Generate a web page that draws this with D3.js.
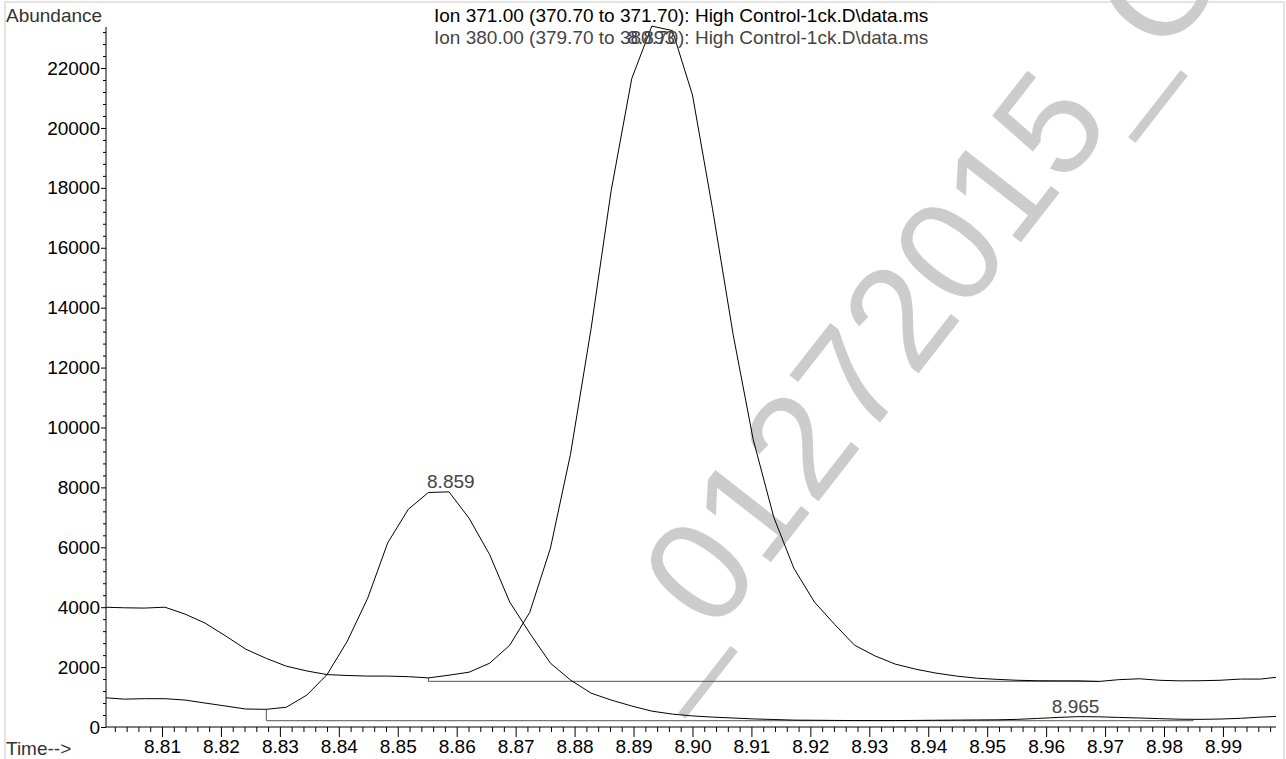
<!DOCTYPE html>
<html><head><meta charset="utf-8">
<script src="https://cdn.jsdelivr.net/npm/d3@7"></script>
<style>body{margin:0;background:#fff}svg{display:block;font-family:"Liberation Sans",Arial,sans-serif}</style>
</head><body><svg id="c" width="1286" height="759"></svg>
<script>
const times=[8.8001,8.8036,8.8070,8.8105,8.8139,8.8173,8.8208,8.8242,8.8277,8.8311,8.8346,8.8380,8.8414,8.8449,8.8483,8.8518,8.8552,8.8587,8.8621,8.8656,8.8690,8.8724,8.8759,8.8793,8.8828,8.8862,8.8897,8.8931,8.8966,8.9000,8.9034,8.9069,8.9103,8.9138,8.9172,8.9207,8.9241,8.9275,8.9310,8.9344,8.9379,8.9413,8.9448,8.9482,8.9517,8.9551,8.9585,8.9620,8.9654,8.9689,8.9723,8.9758,8.9792,8.9827,8.9861,8.9895,8.9930,8.9964,8.9999];
const ion371=[4000,3980,3970,4000,3770,3470,3040,2600,2290,2030,1870,1750,1720,1700,1700,1680,1640,1730,1830,2130,2730,3830,5970,9100,13300,17900,21650,23400,23250,21100,17300,13100,9600,7000,5300,4170,3430,2730,2370,2100,1930,1800,1700,1630,1590,1560,1545,1540,1540,1520,1580,1610,1560,1540,1545,1560,1600,1600,1680];
const ion380=[980,930,945,945,900,800,700,600,590,660,1070,1750,2850,4300,6150,7270,7830,7850,6970,5750,4170,3130,2130,1570,1130,900,700,530,430,370,330,300,270,250,230,225,220,215,215,215,220,225,230,235,240,255,285,320,345,340,320,300,280,260,255,265,290,330,360];
const yTicks=[0,2000,4000,6000,8000,10000,12000,14000,16000,18000,20000,22000];
const xTicks=[8.81,8.82,8.83,8.84,8.85,8.86,8.87,8.88,8.89,8.90,8.91,8.92,8.93,8.94,8.95,8.96,8.97,8.98,8.99];
const xTickLabels=["8.81","8.82","8.83","8.84","8.85","8.86","8.87","8.88","8.89","8.90","8.91","8.92","8.93","8.94","8.95","8.96","8.97","8.98","8.99"];
const peakTimes=[8.859,8.893,8.965];
const peakLabels=["8.859","8.893","8.965"];
const peakSeries=["ion380","ion371","ion380"];
const baselineStart=[8.8277,8.8552,8.9448];
const baselineEnd=[8.9448,8.9690,8.9850];
const baselineLevel=[210,1525,210];
const titles=["Ion 371.00 (370.70 to 371.70): High Control-1ck.D\\data.ms","Ion 380.00 (379.70 to 380.70): High Control-1ck.D\\data.ms"];
const watermark="_01272015_C";

const svg=d3.select("#c");
const x=d3.scaleLinear().domain([8.8005,8.9990]).range([106,1276]);
const y=d3.scaleLinear().domain([0,23370]).range([727,27]);
const series={ion371,ion380};

svg.append("rect").attr("x",5).attr("y",2).attr("width",1279).attr("height",800)
  .attr("fill","none").attr("stroke","#e4e4e4").attr("stroke-width",2);

svg.append("text").attr("transform","translate(664,699) rotate(-52)")
  .attr("font-size",146).attr("fill","#cccccc").text(watermark);

svg.append("clipPath").attr("id","pc").append("rect")
  .attr("x",106).attr("y",0).attr("width",1170).attr("height",728);

const yMinor=d3.range(400,23370,400).filter(v=>v%2000!==0);
const xMinor=d3.range(8.802,8.9990,0.002).filter(v=>Math.abs(v*100-Math.round(v*100))>0.01);
const gy=svg.append("g").attr("transform","translate(106,0)")
  .call(d3.axisLeft(y).tickValues(yMinor).tickSize(3).tickFormat(""));
const gyM=svg.append("g").attr("transform","translate(106,0)")
  .call(d3.axisLeft(y).tickValues(yTicks).tickSize(5).tickPadding(1).tickFormat(d3.format("d")));
[gy,gyM].forEach(g=>g.select(".domain").remove());
svg.append("line").attr("x1",106).attr("x2",106).attr("y1",y(23370)).attr("y2",y(0)).attr("stroke","#000");
gyM.selectAll("text").attr("font-size",19).attr("fill","#000").attr("font-family","Liberation Sans, Arial, sans-serif");

const gx=svg.append("g").attr("transform","translate(0,727)")
  .call(d3.axisBottom(x).tickValues(xMinor).tickSize(5).tickFormat(""));
const gxM=svg.append("g").attr("transform","translate(0,727)")
  .call(d3.axisBottom(x).tickValues(xTicks).tickSize(10).tickPadding(3).tickFormat((d,i)=>xTickLabels[i]));
[gx,gxM].forEach(g=>g.select(".domain").remove());
svg.append("line").attr("x1",106).attr("x2",1276).attr("y1",727).attr("y2",727).attr("stroke","#000");
gxM.selectAll("text").attr("font-size",19).attr("fill","#000").attr("font-family","Liberation Sans, Arial, sans-serif");

const bl=svg.append("g").attr("clip-path","url(#pc)");
baselineStart.forEach((t0,i)=>{
  const s=series[peakSeries[i]];
  const idx=d3.minIndex(times,t=>Math.abs(t-t0));
  const path=d3.path();
  path.moveTo(x(times[idx]),y(s[idx]));
  path.lineTo(x(times[idx]),y(baselineLevel[i]));
  path.lineTo(x(baselineEnd[i]),y(baselineLevel[i]));
  bl.append("path").attr("d",path.toString()).attr("fill","none").attr("stroke","#555").attr("stroke-width",1);
});

const line=d3.line().x((d,i)=>x(times[i])).y(d=>y(d));
const cg=svg.append("g").attr("clip-path","url(#pc)");
[ion380,ion371].forEach(s=>{
  cg.append("path").datum(s).attr("d",line).attr("fill","none").attr("stroke","#000").attr("stroke-width",1);
});

peakTimes.forEach((t,i)=>{
  const s=series[peakSeries[i]];
  const idx=d3.minIndex(times,tt=>Math.abs(tt-t));
  const yy=Math.max(y(s[idx])-4,44);
  svg.append("text").attr("x",x(t)).attr("y",yy).attr("text-anchor","middle")
    .attr("font-size",19).attr("fill","#444").text(peakLabels[i]);
});

svg.append("text").attr("x",434).attr("y",22).attr("font-size",19).attr("fill","#000").text(titles[0]);
svg.append("text").attr("x",434).attr("y",44).attr("font-size",19).attr("fill","#444").text(titles[1]);
svg.append("text").attr("x",6).attr("y",22).attr("font-size",19).attr("fill","#333").text("Abundance");
svg.append("text").attr("x",6).attr("y",755).attr("font-size",19).attr("fill","#333").text("Time-->");
</script></body></html>
